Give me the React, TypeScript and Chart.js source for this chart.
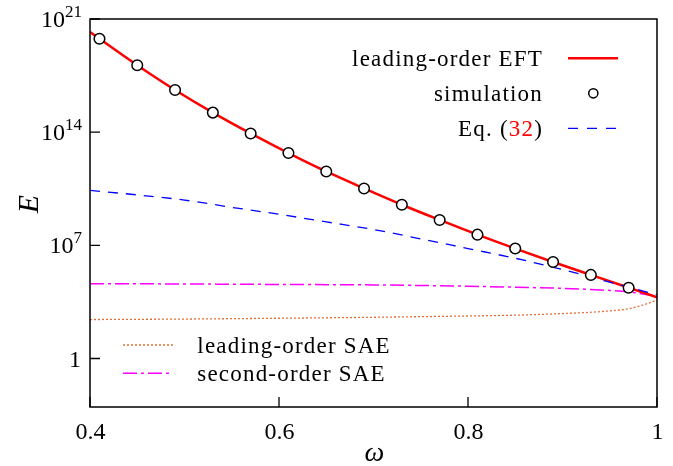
import React, { useEffect, useRef } from 'react';
import { Chart, registerables } from 'chart.js';

Chart.register(...registerables);

// ---- data (log10 of E) ----
const eftOmega = [0.40, 0.41, 0.45, 0.49, 0.53, 0.57, 0.61, 0.65, 0.69, 0.73, 0.77, 0.81, 0.85, 0.89, 0.93, 0.97, 1.00];
const eftLog10E = [20.20, 19.78, 18.14, 16.61, 15.21, 13.92, 12.71, 11.57, 10.52, 9.51, 8.57, 7.66, 6.80, 5.97, 5.17, 4.38, 3.79];

const simOmega = [0.41, 0.45, 0.49, 0.53, 0.57, 0.61, 0.65, 0.69, 0.73, 0.77, 0.81, 0.85, 0.89, 0.93, 0.97];
const simLog10E = [19.78, 18.14, 16.61, 15.21, 13.92, 12.71, 11.57, 10.52, 9.51, 8.57, 7.66, 6.80, 5.97, 5.17, 4.38];

const eq32Omega = [0.40, 0.45, 0.50, 0.55, 0.60, 0.65, 0.70, 0.75, 0.80, 0.85, 0.90, 0.95, 1.00];
const eq32Log10E = [10.40, 10.12, 9.80, 9.35, 8.92, 8.45, 7.98, 7.40, 6.80, 6.20, 5.50, 4.72, 3.95];

const saeLoOmega = [0.40, 0.50, 0.60, 0.70, 0.80, 0.85, 0.90, 0.94, 0.97, 0.99, 1.00];
const saeLoLog10E = [2.41, 2.44, 2.49, 2.55, 2.63, 2.68, 2.78, 2.90, 3.08, 3.40, 3.62];

const saeNloOmega = [0.40, 0.50, 0.60, 0.70, 0.80, 0.85, 0.90, 0.94, 0.97, 1.00];
const saeNloLog10E = [4.63, 4.61, 4.58, 4.55, 4.47, 4.41, 4.34, 4.24, 4.12, 3.84];

const xTickValues = [0.4, 0.6, 0.8, 1.0];
const xTickLabels = ['0.4', '0.6', '0.8', '1'];
const yTickExponents = [0, 7, 14, 21];

const legendTop = ['leading-order EFT', 'simulation', 'Eq. ('];
const legendBottom = ['leading-order SAE', 'second-order SAE'];

const FONT = "'Liberation Serif', 'Times New Roman', serif";

const toPoints = (xs: number[], logs: number[]) =>
  xs.map((x, i) => ({ x, y: Math.pow(10, logs[i]) }));

const decorPlugin = {
  id: 'decor',
  afterDatasetsDraw(chart: any) {
    const { ctx, chartArea } = chart;
    const xs = chart.scales.x;
    const ys = chart.scales.y;
    const { left, right, top, bottom } = chartArea;
    ctx.save();

    // frame
    ctx.strokeStyle = '#000';
    ctx.lineWidth = 1.5;
    ctx.setLineDash([]);
    ctx.strokeRect(left, top, right - left, bottom - top);

    // inward ticks
    ctx.lineWidth = 1.3;
    ctx.beginPath();
    yTickExponents.forEach((e) => {
      const py = ys.getPixelForValue(Math.pow(10, e));
      ctx.moveTo(left, py);
      ctx.lineTo(left + 10, py);
    });
    xTickValues.forEach((v) => {
      const px = xs.getPixelForValue(v);
      ctx.moveTo(px, bottom);
      ctx.lineTo(px, bottom - 10);
    });
    ctx.stroke();

    // y tick labels
    ctx.fillStyle = '#000';
    ctx.textBaseline = 'alphabetic';
    ctx.textAlign = 'left';
    yTickExponents.forEach((e) => {
      const py = ys.getPixelForValue(Math.pow(10, e));
      const rightEdge = 82;
      if (e === 0) {
        ctx.font = `24px ${FONT}`;
        const w = ctx.measureText('1').width;
        ctx.fillText('1', rightEdge - 1 - w, py + 8);
      } else {
        ctx.font = `17px ${FONT}`;
        const expStr = String(e);
        const ew = ctx.measureText(expStr).width;
        ctx.font = `24px ${FONT}`;
        const bw = ctx.measureText('10').width;
        ctx.fillText('10', rightEdge - ew - bw, py + 8);
        ctx.font = `17px ${FONT}`;
        ctx.fillText(expStr, rightEdge - ew, py - 2);
      }
    });

    // x tick labels
    ctx.font = `24px ${FONT}`;
    ctx.textAlign = 'center';
    xTickValues.forEach((v, i) => {
      const px = xs.getPixelForValue(v);
      ctx.fillText(xTickLabels[i], px + 0.5, 439);
    });

    // axis titles
    ctx.font = `italic 28px ${FONT}`;
    ctx.fillText('ω', (left + right) / 2 + 1, 461);
    ctx.save();
    ctx.translate(38, 204);
    ctx.rotate(-Math.PI / 2);
    ctx.font = `italic 30px ${FONT}`;
    ctx.textAlign = 'center';
    ctx.fillText('E', 0, 0);
    ctx.restore();

    // top-right legend
    (ctx as any).letterSpacing = '1.2px';
    ctx.font = `23px ${FONT}`;
    ctx.textAlign = 'left';
    const rowsTop = [58.3, 93.3, 128.3];
    const textRight = 543;
    // row 1
    let w = ctx.measureText(legendTop[0]).width;
    ctx.fillText(legendTop[0], textRight - w, rowsTop[0] + 7.7);
    ctx.strokeStyle = '#ff0000';
    ctx.lineWidth = 2.5;
    ctx.beginPath();
    ctx.moveTo(568, rowsTop[0]);
    ctx.lineTo(618, rowsTop[0]);
    ctx.stroke();
    // row 2
    w = ctx.measureText(legendTop[1]).width;
    ctx.fillText(legendTop[1], textRight - w, rowsTop[1] + 7.7);
    ctx.beginPath();
    ctx.arc(593.3, rowsTop[1], 4.6, 0, Math.PI * 2);
    ctx.fillStyle = '#fff';
    ctx.fill();
    ctx.strokeStyle = '#000';
    ctx.lineWidth = 1.5;
    ctx.stroke();
    // row 3: "Eq. (32)" with red 32
    ctx.fillStyle = '#000';
    const p1 = legendTop[2];
    const p2 = '32';
    const p3 = ')';
    const w1 = ctx.measureText(p1).width;
    const w2 = ctx.measureText(p2).width;
    const w3 = ctx.measureText(p3).width;
    const sx = textRight - (w1 + w2 + w3);
    ctx.fillText(p1, sx, rowsTop[2] + 7.7);
    ctx.fillStyle = '#ff0000';
    ctx.fillText(p2, sx + w1, rowsTop[2] + 7.7);
    ctx.fillStyle = '#000';
    ctx.fillText(p3, sx + w1 + w2, rowsTop[2] + 7.7);
    ctx.strokeStyle = '#0000ff';
    ctx.lineWidth = 1.3;
    ctx.setLineDash([10, 9]);
    ctx.beginPath();
    ctx.moveTo(568, rowsTop[2]);
    ctx.lineTo(618, rowsTop[2]);
    ctx.stroke();

    // bottom-left legend
    const rowsBot = [345, 373.3];
    ctx.fillStyle = '#000';
    ctx.fillText(legendBottom[0], 197.3, rowsBot[0] + 7.6);
    ctx.fillText(legendBottom[1], 197.3, rowsBot[1] + 7.6);
    ctx.strokeStyle = '#e0703a';
    ctx.lineWidth = 1.3;
    ctx.setLineDash([2, 2]);
    ctx.beginPath();
    ctx.moveTo(123, rowsBot[0]);
    ctx.lineTo(173, rowsBot[0]);
    ctx.stroke();
    ctx.strokeStyle = '#ff00ff';
    ctx.lineWidth = 1.5;
    ctx.setLineDash([14, 4, 3, 4]);
    ctx.beginPath();
    ctx.moveTo(123, rowsBot[1]);
    ctx.lineTo(173, rowsBot[1]);
    ctx.stroke();
    (ctx as any).letterSpacing = '0px';
    ctx.restore();
  },
};

export default function App() {
  const canvasRef = useRef<HTMLCanvasElement | null>(null);

  useEffect(() => {
    const canvas = canvasRef.current;
    if (!canvas) return;
    const chart = new Chart(canvas, {
      type: 'line',
      data: {
        datasets: [
          {
            label: 'simulation',
            data: toPoints(simOmega, simLog10E),
            showLine: false,
            pointRadius: 5.3,
            pointBackgroundColor: '#ffffff',
            pointBorderColor: '#000000',
            pointBorderWidth: 1.5,
            order: 0,
          },
          {
            label: 'Eq. (32)',
            data: toPoints(eq32Omega, eq32Log10E),
            borderColor: '#0000ff',
            borderWidth: 1.3,
            borderDash: [10, 8],
            pointRadius: 0,
            cubicInterpolationMode: 'monotone',
            order: 1,
          },
          {
            label: 'leading-order EFT',
            data: toPoints(eftOmega, eftLog10E),
            borderColor: '#ff0000',
            borderWidth: 2.5,
            pointRadius: 0,
            cubicInterpolationMode: 'monotone',
            order: 2,
          },
          {
            label: 'second-order SAE',
            data: toPoints(saeNloOmega, saeNloLog10E),
            borderColor: '#ff00ff',
            borderWidth: 1.5,
            borderDash: [14, 4, 3, 4],
            pointRadius: 0,
            cubicInterpolationMode: 'monotone',
            order: 3,
          },
          {
            label: 'leading-order SAE',
            data: toPoints(saeLoOmega, saeLoLog10E),
            borderColor: '#e0703a',
            borderWidth: 1.3,
            borderDash: [2, 2],
            pointRadius: 0,
            cubicInterpolationMode: 'monotone',
            order: 4,
          },
        ],
      },
      options: {
        animation: false,
        responsive: false,
        devicePixelRatio: 1,
        layout: { padding: { top: 19, right: 16, bottom: 0, left: 0 } },
        plugins: {
          legend: { display: false },
          tooltip: { enabled: false },
        },
        scales: {
          x: {
            type: 'linear',
            min: 0.4,
            max: 1,
            grid: { display: false, drawTicks: false },
            border: { display: false },
            ticks: { display: false },
            afterFit: (scale: any) => {
              scale.height = 59;
              scale.paddingLeft = 0;
              scale.paddingRight = 0;
            },
          },
          y: {
            type: 'logarithmic',
            min: 1e-3,
            max: 1e21,
            grid: { display: false, drawTicks: false },
            border: { display: false },
            ticks: { display: false },
            afterBuildTicks: (scale: any) => {
              scale.ticks = yTickExponents.map((e) => ({ value: Math.pow(10, e) }));
            },
            afterFit: (scale: any) => {
              scale.width = 90;
              scale.paddingTop = 0;
              scale.paddingBottom = 0;
            },
          },
        },
      } as any,
      plugins: [decorPlugin],
    });
    return () => chart.destroy();
  }, []);

  return (
    <div style={{ position: 'absolute', left: 0, top: 0, width: 673, height: 466, background: '#fff' }}>
      <canvas ref={canvasRef} width={673} height={466} style={{ display: 'block' }} />
    </div>
  );
}
